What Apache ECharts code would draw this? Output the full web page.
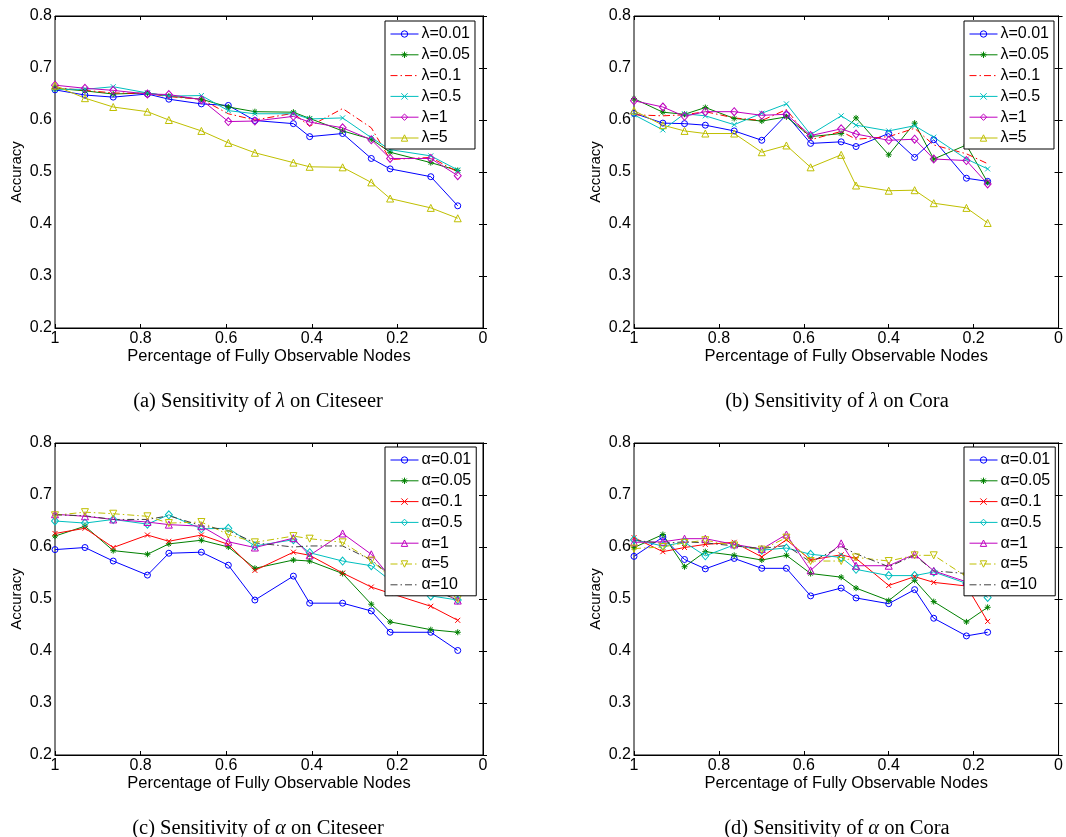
<!DOCTYPE html>
<html>
<head>
<meta charset="utf-8">
<title>Sensitivity of lambda and alpha</title>
<script src="https://cdn.jsdelivr.net/npm/echarts@6/dist/echarts.min.js"></script>
<style>
    html, body { margin: 0; padding: 0; background: #fff; }
    #main { width: 1066px; height: 837px; }
</style>
</head>
<body>
<div id="main"></div>
<script>
// x positions (fraction of fully observable nodes)
var xCiteseer = [1.0, 0.930, 0.864, 0.784, 0.734, 0.658, 0.595, 0.533, 0.443, 0.405, 0.328, 0.261, 0.217, 0.122, 0.059];
var xCora = [1.0, 0.932, 0.881, 0.832, 0.764, 0.699, 0.641, 0.584, 0.512, 0.477, 0.400, 0.339, 0.294, 0.217, 0.167];

var lambdaNames = ['λ=0.01', 'λ=0.05', 'λ=0.1', 'λ=0.5', 'λ=1', 'λ=5'];
var alphaNames = ['α=0.01', 'α=0.05', 'α=0.1', 'α=0.5', 'α=1', 'α=5', 'α=10'];

var xTicks = [1, 0.8, 0.6, 0.4, 0.2, 0];
var yTicks = [0.2, 0.3, 0.4, 0.5, 0.6, 0.7, 0.8];

// (a) lambda on Citeseer, one row per lambda
var lambdaCiteseer = [
    [0.658, 0.648, 0.644, 0.650, 0.640, 0.631, 0.628, 0.599, 0.593, 0.568, 0.574, 0.526, 0.506, 0.491, 0.435],
    [0.661, 0.656, 0.650, 0.652, 0.646, 0.640, 0.625, 0.616, 0.615, 0.603, 0.579, 0.563, 0.538, 0.518, 0.503],
    [0.662, 0.657, 0.652, 0.651, 0.645, 0.640, 0.612, 0.600, 0.613, 0.588, 0.622, 0.585, 0.524, 0.528, 0.500],
    [0.659, 0.659, 0.664, 0.652, 0.646, 0.647, 0.618, 0.612, 0.612, 0.602, 0.604, 0.566, 0.543, 0.531, 0.504],
    [0.667, 0.661, 0.657, 0.650, 0.649, 0.639, 0.597, 0.598, 0.607, 0.596, 0.585, 0.562, 0.526, 0.526, 0.493],
    [0.666, 0.642, 0.625, 0.616, 0.600, 0.579, 0.556, 0.537, 0.518, 0.510, 0.509, 0.480, 0.449, 0.431, 0.411]
];
// (b) lambda on Cora
var lambdaCora = [
    [0.613, 0.594, 0.593, 0.590, 0.579, 0.561, 0.610, 0.555, 0.558, 0.549, 0.574, 0.528, 0.562, 0.488, 0.482],
    [0.641, 0.615, 0.611, 0.624, 0.603, 0.598, 0.606, 0.568, 0.574, 0.604, 0.533, 0.594, 0.525, 0.552, 0.480],
    [0.610, 0.608, 0.610, 0.616, 0.604, 0.599, 0.620, 0.562, 0.578, 0.563, 0.568, 0.584, 0.552, 0.535, 0.516],
    [0.610, 0.581, 0.612, 0.608, 0.591, 0.613, 0.631, 0.572, 0.608, 0.590, 0.579, 0.589, 0.567, 0.525, 0.506],
    [0.637, 0.625, 0.607, 0.616, 0.616, 0.609, 0.611, 0.570, 0.583, 0.573, 0.561, 0.563, 0.525, 0.522, 0.477],
    [0.618, 0.590, 0.579, 0.574, 0.574, 0.538, 0.551, 0.509, 0.533, 0.474, 0.464, 0.465, 0.440, 0.431, 0.402]
];
// (c) alpha on Citeseer
var alphaCiteseer = [
    [0.595, 0.599, 0.573, 0.546, 0.588, 0.590, 0.565, 0.498, 0.544, 0.492, 0.492, 0.477, 0.436, 0.436, 0.401],
    [0.621, 0.640, 0.593, 0.586, 0.606, 0.613, 0.600, 0.559, 0.575, 0.573, 0.549, 0.490, 0.456, 0.441, 0.436],
    [0.626, 0.636, 0.599, 0.623, 0.611, 0.623, 0.605, 0.555, 0.590, 0.584, 0.550, 0.523, 0.511, 0.486, 0.459],
    [0.650, 0.646, 0.653, 0.644, 0.662, 0.635, 0.636, 0.602, 0.614, 0.589, 0.573, 0.564, 0.536, 0.506, 0.498],
    [0.663, 0.659, 0.653, 0.648, 0.643, 0.640, 0.610, 0.599, 0.617, 0.584, 0.626, 0.586, 0.543, 0.523, 0.497],
    [0.661, 0.667, 0.664, 0.659, 0.646, 0.648, 0.624, 0.609, 0.621, 0.616, 0.609, 0.574, 0.543, 0.517, 0.500],
    [0.662, 0.660, 0.653, 0.653, 0.660, 0.641, 0.632, 0.608, 0.600, 0.602, 0.602, 0.575, 0.546, 0.520, 0.498]
];
// (d) alpha on Cora
var alphaCora = [
    [0.582, 0.619, 0.576, 0.558, 0.578, 0.559, 0.559, 0.506, 0.521, 0.502, 0.491, 0.518, 0.463, 0.429, 0.436],
    [0.599, 0.624, 0.562, 0.591, 0.584, 0.575, 0.584, 0.549, 0.542, 0.521, 0.497, 0.536, 0.495, 0.456, 0.484],
    [0.618, 0.591, 0.599, 0.605, 0.609, 0.581, 0.614, 0.575, 0.585, 0.578, 0.526, 0.543, 0.532, 0.525, 0.457],
    [0.614, 0.602, 0.609, 0.583, 0.604, 0.594, 0.598, 0.586, 0.580, 0.557, 0.545, 0.545, 0.552, 0.530, 0.503],
    [0.609, 0.610, 0.616, 0.616, 0.605, 0.596, 0.624, 0.555, 0.607, 0.564, 0.564, 0.586, 0.554, 0.533, 0.525],
    [0.597, 0.600, 0.608, 0.613, 0.603, 0.595, 0.618, 0.573, 0.573, 0.580, 0.573, 0.584, 0.584, 0.543, 0.520],
    [0.613, 0.607, 0.610, 0.608, 0.602, 0.597, 0.603, 0.571, 0.601, 0.587, 0.562, 0.584, 0.554, 0.549, 0.511]
];

var captions = [
    '(a) Sensitivity of {m|λ} on Citeseer',
    '(b) Sensitivity of {m|λ} on Cora',
    '(c) Sensitivity of {m|α} on Citeseer',
    '(d) Sensitivity of {m|α} on Cora'
];

(function() {
    var chart = echarts.init(document.getElementById('main'), null, {renderer: 'canvas'});
    var FONT = '"Liberation Sans", Arial, Helvetica, sans-serif';
    var SERIF = '"Liberation Serif", "Times New Roman", serif';
    var CLEAR = 'rgba(255,255,255,0)';

    // matlab style line colours
    var C = {
        b: '#0000ff', g: '#008000', r: '#ff0000', c: '#00bfbf',
        m: '#bf00bf', y: '#bfbf00', k: '#404040'
    };
    var DASHDOT = [7, 3, 1.5, 3];
    var STAR = 'path://M5 0L5 10M0 5L10 5M1.5 1.5L8.5 8.5M8.5 1.5L1.5 8.5';
    var CROSS = 'path://M0 0L10 10M10 0L0 10';

    // styles per series: colour, marker, size, dash, rotation
    var lambdaStyles = [
        {color: C.b, symbol: 'circle', size: 6},
        {color: C.g, symbol: STAR, size: 6},
        {color: C.r, symbol: 'none', dash: DASHDOT},
        {color: C.c, symbol: CROSS, size: 5},
        {color: C.m, symbol: 'diamond', size: [7, 8]},
        {color: C.y, symbol: 'triangle', size: 7}
    ];
    var alphaStyles = [
        {color: C.b, symbol: 'circle', size: 6},
        {color: C.g, symbol: STAR, size: 6},
        {color: C.r, symbol: CROSS, size: 5},
        {color: C.c, symbol: 'diamond', size: [7, 8]},
        {color: C.m, symbol: 'triangle', size: 7},
        {color: C.y, symbol: 'triangle', size: 7, rotate: 180, dash: DASHDOT},
        {color: C.k, symbol: 'none', dash: DASHDOT}
    ];

    var panels = [
        {left: 55, top: 16, xs: xCiteseer, rows: lambdaCiteseer, names: lambdaNames, styles: lambdaStyles},
        {left: 634, top: 16, xs: xCora, rows: lambdaCora, names: lambdaNames, styles: lambdaStyles},
        {left: 55, top: 443, xs: xCiteseer, rows: alphaCiteseer, names: alphaNames, styles: alphaStyles},
        {left: 634, top: 443, xs: xCora, rows: alphaCora, names: alphaNames, styles: alphaStyles}
    ];
    var W = 428, H = 312;

    var grid = [], xAxis = [], yAxis = [], series = [], legend = [], title = [];

    function markerStyle(st) {
        if (st.symbol === 'none') {
            return {color: CLEAR, borderColor: CLEAR, borderWidth: 0};
        }
        return {color: CLEAR, borderColor: st.color, borderWidth: 1};
    }

    panels.forEach(function(p, i) {
        grid.push({
            left: p.left, top: p.top, width: W, height: H,
            show: true, borderColor: '#000', borderWidth: 1, backgroundColor: '#fff'
        });
        // bottom / top x axes
        xAxis.push({
            type: 'value', gridIndex: i, min: 0, max: 1, interval: 0.2, inverse: true,
            name: 'Percentage of Fully Observable Nodes', nameLocation: 'middle', nameGap: 19,
            nameTextStyle: {fontFamily: FONT, fontSize: 16.5, color: '#000'},
            axisLine: {show: true, lineStyle: {color: '#000', width: 1}},
            axisTick: {show: true, inside: true, length: 4, lineStyle: {color: '#000'}},
            axisLabel: {fontFamily: FONT, fontSize: 16, color: '#000', margin: 3},
            splitLine: {show: false}
        });
        xAxis.push({
            type: 'value', gridIndex: i, position: 'top', min: 0, max: 1, interval: 0.2, inverse: true,
            axisLine: {show: true, lineStyle: {color: '#000', width: 1}},
            axisTick: {show: true, inside: true, length: 4, lineStyle: {color: '#000'}},
            axisLabel: {show: false}, splitLine: {show: false}
        });
        // left / right y axes
        yAxis.push({
            type: 'value', gridIndex: i, min: 0.2, max: 0.8, interval: 0.1,
            name: 'Accuracy', nameLocation: 'middle', nameGap: 31, nameRotate: 90,
            nameTextStyle: {fontFamily: FONT, fontSize: 15, color: '#000'},
            axisLine: {show: true, lineStyle: {color: '#000', width: 1}},
            axisTick: {show: true, inside: true, length: 4, lineStyle: {color: '#000'}},
            axisLabel: {
                fontFamily: FONT, fontSize: 16, color: '#000', margin: 3,
                formatter: function(v) { return v.toFixed(1); }
            },
            splitLine: {show: false}
        });
        yAxis.push({
            type: 'value', gridIndex: i, position: 'right', min: 0.2, max: 0.8, interval: 0.1,
            axisLine: {show: true, lineStyle: {color: '#000', width: 1}},
            axisTick: {show: true, inside: true, length: 4, lineStyle: {color: '#000'}},
            axisLabel: {show: false}, splitLine: {show: false}
        });

        p.rows.forEach(function(row, k) {
            var st = p.styles[k];
            var pts = row.map(function(v, j) { return [p.xs[j], v]; });
            series.push({
                type: 'line', name: p.names[k],
                xAxisIndex: i * 2, yAxisIndex: i * 2,
                data: pts,
                symbol: st.symbol, symbolSize: st.size || 6, symbolRotate: st.rotate || 0,
                showSymbol: st.symbol !== 'none',
                lineStyle: {color: st.color, width: 1, type: st.dash || 'solid'},
                itemStyle: markerStyle(st),
                emphasis: {disabled: true},
                z: 3
            });
        });

        // legend items carry their own marker / line look
        var items = p.names.map(function(n, k) {
            var st = p.styles[k];
            return {
                name: n,
                itemStyle: markerStyle(st),
                lineStyle: {color: st.color, width: 1, type: st.dash || 'solid'}
            };
        });

        legend.push({
            data: items,
            left: p.left + 330, top: p.top + (i < 2 ? 5 : 4),
            orient: 'vertical',
            backgroundColor: '#fff', borderColor: '#000', borderWidth: 1,
            padding: [5, 5, 3, 5],
            itemWidth: 28, itemHeight: 8, itemGap: 4.8,
            textStyle: {fontFamily: FONT, fontSize: 16, lineHeight: 16, color: '#000', padding: [0, 0, 0, -2]},
            selectedMode: false,
            z: 10
        });

        title.push({
            text: captions[i],
            left: p.left + W / 2 - 16, top: p.top + H + 58,
            textAlign: 'center',
            textStyle: {
                fontFamily: SERIF, fontSize: 20.5, fontWeight: 'normal', color: '#000',
                rich: {m: {fontFamily: SERIF, fontSize: 20.5, fontStyle: 'italic', color: '#000'}}
            }
        });
    });

    chart.setOption({
        animation: false,
        backgroundColor: '#fff',
        title: title,
        grid: grid,
        xAxis: xAxis,
        yAxis: yAxis,
        legend: legend,
        series: series
    });
})();
</script>
</body>
</html>
